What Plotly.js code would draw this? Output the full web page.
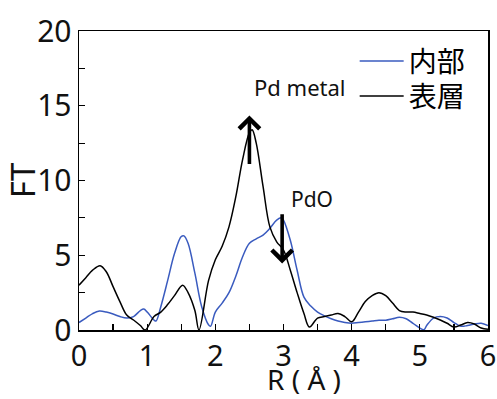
<!DOCTYPE html>
<html>
<head>
<meta charset="utf-8">
<script src="https://cdn.plot.ly/plotly-3.0.1.min.js"></script>
<style>html,body{margin:0;padding:0;background:#fff;}#chart{width:497px;height:399px;}</style>
</head>
<body>
<div id="chart"></div>
<script>
// Series names
const seriesNames = ['内部', '表層'];

// 内部 (inner) — blue
const innerR  = [0, 0.1, 0.2, 0.3, 0.4, 0.5, 0.6, 0.7, 0.8, 0.9, 0.95, 1.0, 1.1, 1.13, 1.2, 1.3, 1.4, 1.5, 1.54, 1.6, 1.7, 1.8, 1.9, 1.93, 2.0, 2.1, 2.2, 2.3, 2.4, 2.5, 2.6, 2.7, 2.8, 2.9, 2.97, 3.0, 3.1, 3.2, 3.3, 3.4, 3.5, 3.6, 3.7, 3.8, 3.9, 4.0, 4.1, 4.2, 4.3, 4.4, 4.5, 4.6, 4.7, 4.8, 4.9, 5.06, 5.1, 5.2, 5.3, 5.4, 5.5, 5.6, 5.7, 5.8, 5.9, 6.0];
const innerFT = [0.5, 0.8, 1.1, 1.27, 1.2, 1.07, 0.9, 0.8, 0.9, 1.3, 1.4, 1.2, 0.67, 0.6, 1.56, 3.3, 5.1, 6.25, 6.3, 5.8, 3.8, 1.56, 0.35, 0.25, 1.2, 1.8, 2.5, 3.6, 4.9, 5.8, 6.1, 6.35, 6.8, 7.35, 7.5, 7.35, 6.0, 4.0, 2.2, 1.6, 1.2, 0.95, 0.75, 0.6, 0.5, 0.45, 0.5, 0.55, 0.6, 0.65, 0.65, 0.75, 0.85, 0.75, 0.45, 0.02, 0.3, 0.8, 0.9, 0.8, 0.5, 0.25, 0.3, 0.4, 0.45, 0.3];

// 表層 (surface) — black
const surfR  = [0, 0.1, 0.2, 0.31, 0.4, 0.5, 0.6, 0.7, 0.8, 0.9, 0.97, 1.1, 1.2, 1.3, 1.4, 1.52, 1.6, 1.7, 1.76, 1.9, 2.0, 2.1, 2.2, 2.3, 2.4, 2.5, 2.54, 2.6, 2.7, 2.8, 2.9, 3.0, 3.1, 3.2, 3.3, 3.38, 3.5, 3.6, 3.7, 3.8, 3.9, 4.0, 4.1, 4.2, 4.3, 4.4, 4.5, 4.6, 4.7, 4.8, 4.9, 5.0, 5.1, 5.2, 5.3, 5.4, 5.5, 5.6, 5.7, 5.8, 5.9, 6.0];
const surfFT = [3.0, 3.5, 4.0, 4.3, 3.9, 2.9, 1.9, 1.0, 0.67, 0.3, 0.0, 0.9, 1.2, 1.7, 2.3, 3.0, 2.5, 1.3, 0.0, 3.3, 4.7, 5.6, 6.9, 8.9, 11.4, 13.2, 13.4, 12.5, 9.6, 6.9, 5.9, 5.35, 4.0, 2.5, 1.1, 0.2, 0.8, 0.9, 1.0, 1.1, 0.9, 0.55, 1.2, 1.9, 2.3, 2.5, 2.3, 1.8, 1.3, 1.2, 1.2, 1.1, 1.0, 0.85, 0.67, 0.45, 0.2, 0.33, 0.5, 0.4, 0.13, 0.05];

// Axis ticks and titles
const xTicks = [0, 1, 2, 3, 4, 5, 6];
const yTicks = [0, 5, 10, 15, 20];
const xTitle = 'R ( Å )';
const yTitle = 'FT';

// Annotations: labels [text, x, y] and arrows [x, yFrom, yTo]
const labels = [['Pd metal', 3.24, 16.25], ['PdO', 3.42, 8.73]];
const metalArrow = [2.5, 11.0, 14.35];
const pdoArrow = [2.98, 7.85, 4.45];

const fontFam = '"Noto Sans", "Noto Sans CJK JP", sans-serif';
const cjkFam = '"Noto Sans CJK JP", sans-serif';

const traces = [
  {x: innerR, y: innerFT, name: seriesNames[0], type: 'scatter', mode: 'lines', legend: 'legend',
   line: {color: '#3a5bbf', width: 1.5, shape: 'spline', smoothing: 1}},
  {x: surfR, y: surfFT, name: seriesNames[1], type: 'scatter', mode: 'lines', legend: 'legend2',
   line: {color: '#000000', width: 1.5, shape: 'spline', smoothing: 1}}
];

const arrowAnn = (a) => ({x: a[0], y: a[2], ax: a[0], ay: a[1],
  xref: 'x', yref: 'y', axref: 'x', ayref: 'y', text: '', showarrow: true,
  arrowhead: 4, arrowsize: 1.1, arrowwidth: 3.6, arrowcolor: '#000'});

const legendBase = {xanchor: 'left', yanchor: 'middle', bgcolor: 'rgba(0,0,0,0)', borderwidth: 0,
  font: {family: cjkFam, size: 28, color: '#000'}, itemwidth: 44};

const layout = {
  width: 497, height: 399,
  margin: {l: 79, r: 9, t: 31, b: 69},
  paper_bgcolor: '#fff', plot_bgcolor: '#fff',
  font: {family: fontFam, color: '#111'},
  showlegend: true,
  legend: Object.assign({x: 0.674, y: 0.899}, legendBase),
  legend2: Object.assign({x: 0.674, y: 0.782}, legendBase),
  xaxis: {range: [0, 6], tickvals: xTicks, ticktext: xTicks.map(String),
          showline: true, linecolor: '#000', linewidth: 1.5, mirror: true,
          ticks: 'inside', ticklen: 6, tickwidth: 1.2, tickcolor: '#000',
          minor: {dtick: 0.5, ticks: 'inside', ticklen: 6, tickwidth: 1.2, tickcolor: '#000'},
          showgrid: false, zeroline: false,
          tickfont: {size: 29, family: fontFam, color: '#111'}},
  yaxis: {range: [0, 20], tickvals: yTicks, ticktext: yTicks.map(String),
          showline: true, linecolor: '#000', linewidth: 1.5, mirror: true,
          ticks: 'inside', ticklen: 6, tickwidth: 1.2, tickcolor: '#000',
          minor: {dtick: 2.5, ticks: 'inside', ticklen: 6, tickwidth: 1.2, tickcolor: '#000'},
          showgrid: false, zeroline: false,
          tickfont: {size: 30, family: fontFam, color: '#111'},
          title: {text: yTitle, font: {size: 33, family: fontFam, color: '#111'}, standoff: 0}},
  annotations: [
    {x: 0.55, y: -0.164, xref: 'paper', yref: 'paper', xanchor: 'center', yanchor: 'middle',
     text: xTitle, showarrow: false, font: {size: 28, family: fontFam, color: '#111'}},
    {x: labels[0][1], y: labels[0][2], xref: 'x', yref: 'y', text: labels[0][0], showarrow: false,
     font: {size: 22, family: fontFam, color: '#111'}},
    {x: labels[1][1], y: labels[1][2], xref: 'x', yref: 'y', text: labels[1][0], showarrow: false,
     font: {size: 21, family: fontFam, color: '#111'}},
    arrowAnn(metalArrow),
    arrowAnn(pdoArrow)
  ]
};

Plotly.newPlot('chart', traces, layout, {displayModeBar: false, staticPlot: true});
</script>
</body>
</html>
